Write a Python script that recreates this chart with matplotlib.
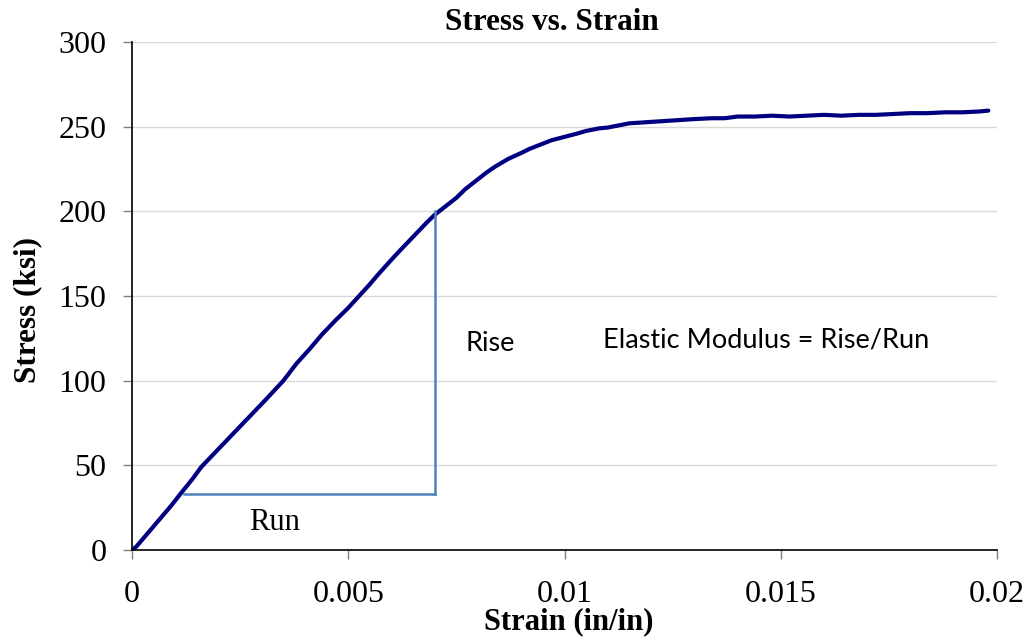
import matplotlib
matplotlib.use("Agg")
import matplotlib.pyplot as plt

# stress-strain test data (strain in in/in, stress in ksi)
strain = [0, 0.0001, 0.0003, 0.0006, 0.0009, 0.0011, 0.0014, 0.0016, 0.0019, 0.0022,
          0.0025, 0.0028, 0.0031, 0.0035, 0.0038, 0.0041, 0.0044, 0.0047, 0.0050, 0.0052,
          0.0055, 0.0057, 0.0060, 0.0062, 0.0065, 0.0068, 0.0070, 0.0072, 0.0075, 0.0077,
          0.0080, 0.0082, 0.0084, 0.0087, 0.0090, 0.0092, 0.0095, 0.0097, 0.0100, 0.0103,
          0.0105, 0.0108, 0.0110, 0.0113, 0.0115, 0.0118, 0.0121, 0.0124, 0.0127, 0.0130,
          0.0134, 0.0137, 0.0140, 0.0144, 0.0148, 0.0152, 0.0156, 0.0160, 0.0164, 0.0168,
          0.0172, 0.0176, 0.0180, 0.0184, 0.0188, 0.0192, 0.0196, 0.0198]
stress = [0, 2, 8, 17, 26, 32.5, 42, 49, 57, 65,
          73, 81, 89, 100, 110, 118.5, 127.5, 135.5, 143, 148.6,
          157, 163, 171.5, 177, 185, 193, 198, 202, 208, 213,
          219, 223, 226.5, 231, 234.5, 237, 240, 242, 244, 246,
          247.5, 249, 249.5, 251, 252, 252.5, 253, 253.5, 254, 254.5,
          255, 255, 256, 256, 256.5, 256, 256.5, 257, 256.5, 257,
          257, 257.5, 258, 258, 258.5, 258.5, 259, 259.5]

# rise/run triangle used to read the elastic modulus
run_x = [0.0012, 0.0070]
run_y = [33, 33]
rise_x = [0.0070, 0.0070]
rise_y = [33, 200]

xticks = [0, 0.005, 0.01, 0.015, 0.02]
xtick_labels = ["0", "0.005", "0.01", "0.015", "0.02"]
yticks = [0, 50, 100, 150, 200, 250, 300]

serif = "Liberation Serif"
sans = "Lato"

fig = plt.figure(figsize=(10.29, 6.37), dpi=100)
ax = fig.add_axes([0.1283, 0.1366, 0.8406, 0.7974])

ax.plot(strain, stress, color="#000080", linewidth=3.0, solid_capstyle="round",
        solid_joinstyle="round")
ax.plot(run_x, run_y, color="#4F81BD", linewidth=1.8)
ax.plot(rise_x, rise_y, color="#4F81BD", linewidth=1.8)

ax.set_xlim(0, 0.02)
ax.set_ylim(0, 300)
ax.set_xticks(xticks)
ax.set_xticklabels(xtick_labels)
ax.set_yticks(yticks)

ax.grid(axis="y", color="#d9d9d9", linewidth=1)
ax.set_axisbelow(True)
for side in ["top", "right"]:
    ax.spines[side].set_visible(False)
for side in ["left", "bottom"]:
    ax.spines[side].set_color("black")
    ax.spines[side].set_linewidth(1.2)

ax.tick_params(axis="both", direction="out", length=6.5, width=1, color="#808080",
               labelsize=23)
ax.tick_params(axis="x", pad=15)
ax.tick_params(axis="y", pad=12)
for lbl in ax.get_xticklabels() + ax.get_yticklabels():
    lbl.set_fontfamily(serif)

fig.text(552 / 1029, 1 - 22 / 637, "Stress vs. Strain", fontfamily=serif,
         fontweight="bold", fontsize=22.5, ha="center", va="center")
ax.set_xlabel("Strain (in/in)", fontfamily=serif, fontweight="bold", fontsize=22)
ax.set_ylabel("Stress (ksi)", fontfamily=serif, fontweight="bold", fontsize=22.5)
ax.xaxis.set_label_coords(0.505, -0.113)
ax.yaxis.set_label_coords(-0.104, 0.472)

ax.text(0.0077, 122, "Rise", fontfamily=sans, fontsize=19.5, va="center", ha="left")
ax.text(0.0033, 16, "Run", fontfamily=serif, fontsize=22, va="center", ha="center")
ax.text(0.0109, 124, "Elastic Modulus = Rise/Run", fontfamily=sans, fontsize=19.5,
        va="center", ha="left")

fig.savefig("out.png", dpi=100, facecolor="white")
